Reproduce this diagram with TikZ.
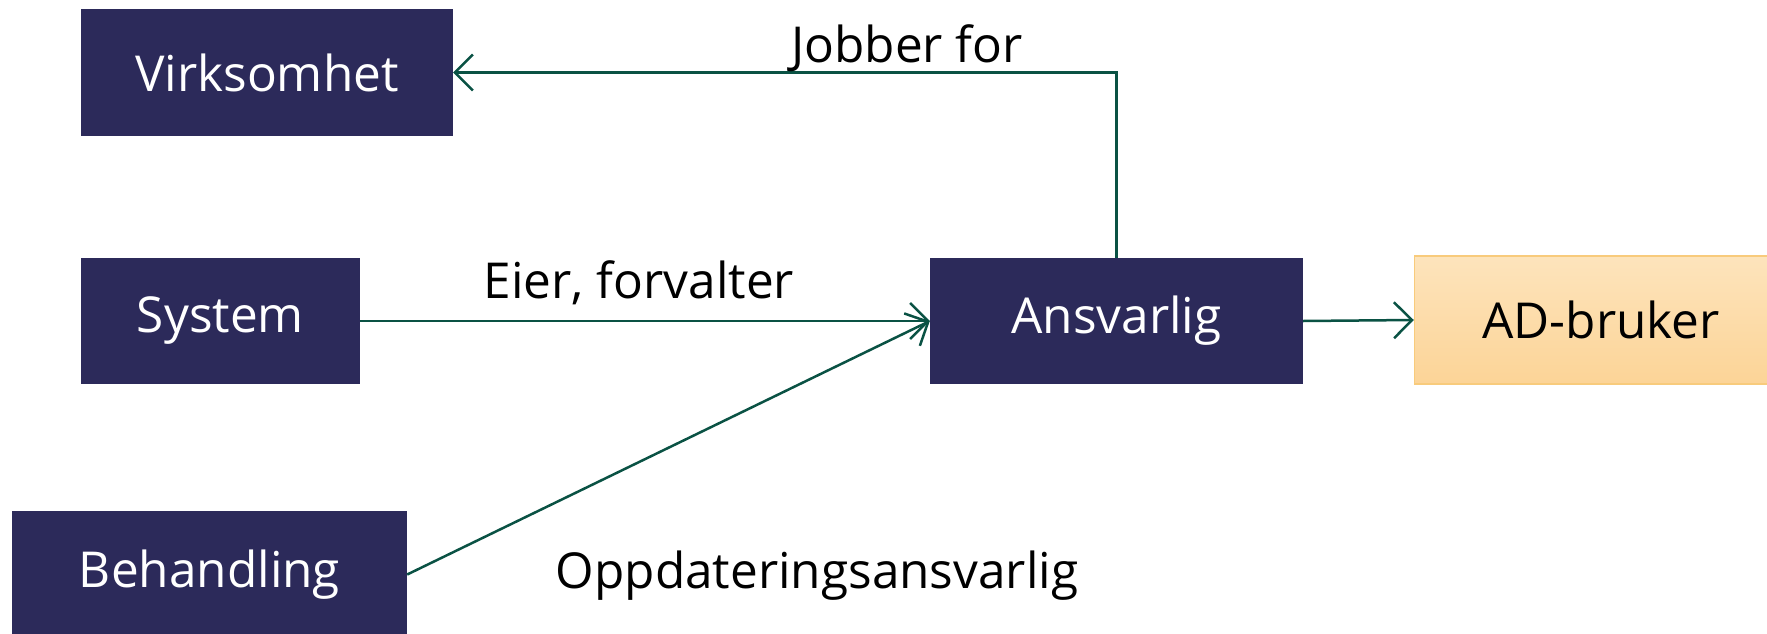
\documentclass[tikz,border=0pt]{standalone}
\usepackage{fontspec}
\setmainfont{Open Sans}
\usetikzlibrary{arrows.meta}
\definecolor{navy}{HTML}{2C2A5A}
\definecolor{linegreen}{HTML}{0A5244}
\definecolor{adtop}{HTML}{FDE4BC}
\definecolor{adbot}{HTML}{FCD497}
\definecolor{adborder}{HTML}{F8CB7C}
\tikzset{
  box/.style={fill=navy, draw=none, text=white, minimum height=126pt, minimum width=373pt, inner sep=0pt,
    font=\fontsize{49.5}{56}\selectfont},
  adbox/.style={top color=adtop, bottom color=adbot, draw=adborder, line width=1.5pt, text=black,
    minimum height=128pt, minimum width=373pt, inner sep=0pt, font=\fontsize{49.5}{56}\selectfont},
  lbl/.style={anchor=base, inner sep=0pt, font=\fontsize{49.5}{56}\selectfont},
  conn/.style={draw=linegreen, line width=2.5pt, -{Straight Barb[length=18pt,width=36pt,line width=2.5pt]}},
}
\begin{document}
\begin{tikzpicture}[x=1pt, y=-1pt]
\useasboundingbox (0,0) rectangle (1767,634);
\clip (0,0) rectangle (1767,634);
\node[box, minimum width=372pt, minimum height=127pt] (virk) at (267,72.5) {Virksomhet};
\node[box, minimum width=279pt] (sys) at (220.5,321) {System};
\node[box, minimum width=395pt, minimum height=127pt] (beh) at (209.5,574.5) {Behandling};
\node[box] (ans) at (1116.5,321) {Ansvarlig};
\node[adbox] (ad) at (1601,320) {AD-bruker};
\draw[conn] (ans.north) |- (virk.east);
\draw[conn] (sys.east) -- (ans.west);
\draw[conn] (beh.east) -- (ans.west);
\draw[conn] (ans.east) -- (ad.west);
\node[lbl] (l1) at (907,63) {Jobber for};
\node[lbl] (l2) at (639,298) {Eier, forvalter};
\node[lbl] (l3) at (817,588) {Oppdateringsansvarlig};
\end{tikzpicture}
\end{document}
